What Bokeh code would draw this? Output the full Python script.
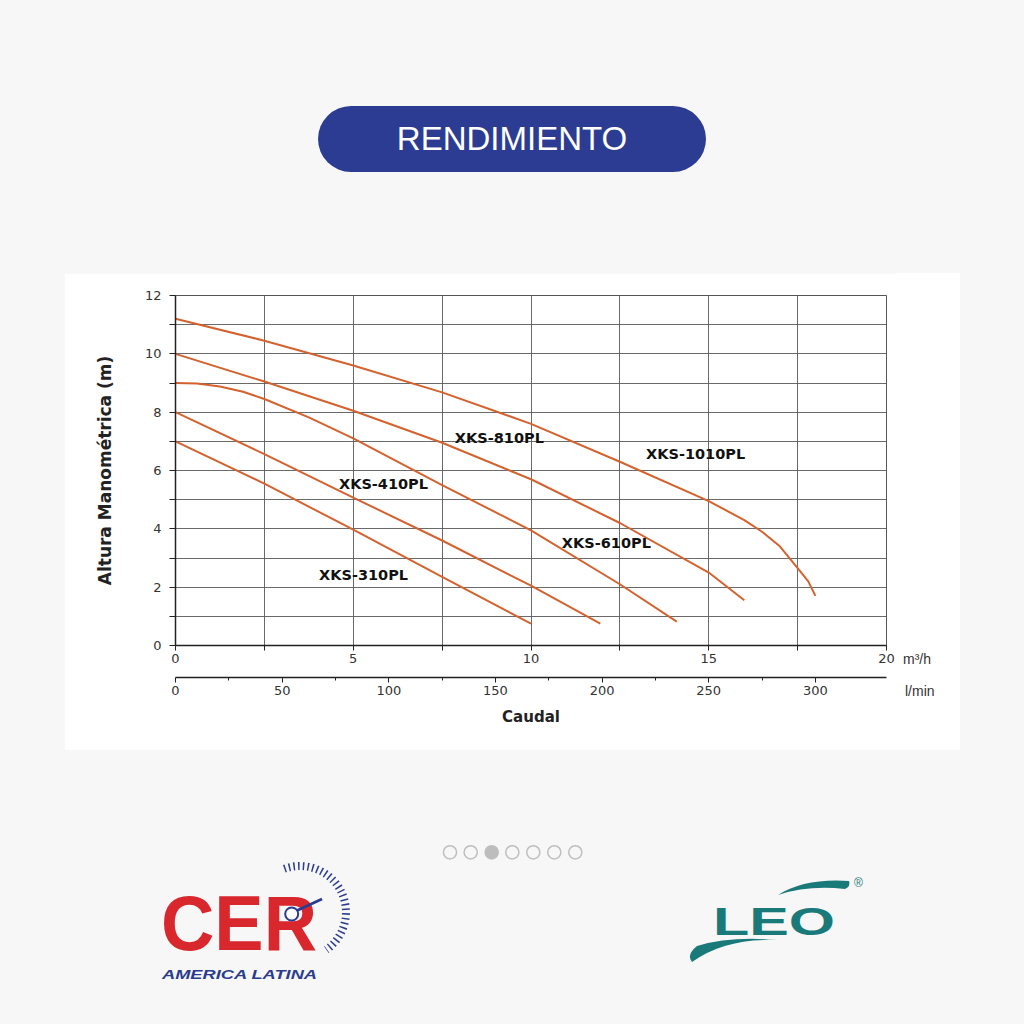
from bokeh.plotting import figure
from bokeh.models import Range1d, LinearAxis, FixedTicker, Div, Spacer, ColumnDataSource
from bokeh.layouts import column, row
from bokeh.embed import file_html
from bokeh.resources import INLINE
from bokeh.core.properties import value

# ---------------- data ----------------
flow_1010 = [0, 2.5, 5, 7.5, 10, 12.5, 15, 16, 16.5, 17, 17.5, 17.8, 18.0]
head_1010 = [11.2, 10.45, 9.6, 8.68, 7.6, 6.3, 4.95, 4.3, 3.9, 3.4, 2.65, 2.2, 1.7]

flow_810 = [0, 2.5, 5, 7.5, 10, 12.5, 15, 16.0]
head_810 = [10.0, 9.05, 8.05, 6.95, 5.7, 4.2, 2.5, 1.55]

flow_610 = [0, 0.6, 1.25, 1.9, 2.5, 3.75, 5, 7.5, 10, 12.5, 14.1]
head_610 = [9.0, 8.98, 8.88, 8.7, 8.45, 7.82, 7.1, 5.5, 3.95, 2.1, 0.82]

flow_410 = [0, 2.5, 5, 7.5, 10, 11.95]
head_410 = [8.0, 6.56, 5.07, 3.6, 2.05, 0.75]

flow_310 = [0, 2.5, 5, 7.5, 10]
head_310 = [7.0, 5.55, 3.97, 2.35, 0.75]

model_names = ["XKS-1010PL", "XKS-810PL", "XKS-410PL", "XKS-610PL", "XKS-310PL"]
label_flow = [14.63, 9.11, 5.85, 12.12, 5.29]
label_head = [6.55, 7.13, 5.55, 3.50, 2.43]

m3h_ticks = [0, 5, 10, 15, 20]
m3h_minor = [2.5, 7.5, 12.5, 17.5]
lmin_ticks = [0, 50, 100, 150, 200, 250, 300]
lmin_minor = [25, 75, 125, 175, 225, 275]
head_ticks = [0, 2, 4, 6, 8, 10, 12]
head_minor = [1, 3, 5, 7, 9, 11]
unit_texts = ["m³/h", "l/min"]

ORANGE = "#d5622e"
GRID = "#5a5a5a"
TXT = "#333333"
FONT = "DejaVu Sans"
BG = "#f7f7f7"

p = figure(width=832, height=477, x_range=Range1d(0, 20), y_range=Range1d(0, 12),
           output_backend="svg", toolbar_location=None,
           min_border_left=111, min_border_right=10, min_border_top=22, min_border_bottom=105,
           background_fill_color="white", border_fill_color="white",
           outline_line_color="#555555", outline_line_width=1)

p.xgrid.ticker = FixedTicker(ticks=[0, 2.5, 5, 7.5, 10, 12.5, 15, 17.5, 20])
p.ygrid.ticker = FixedTicker(ticks=list(range(13)))
for g in (p.xgrid, p.ygrid):
    g.grid_line_color = GRID
    g.grid_line_width = 1
    g.grid_line_alpha = 0.9

xa = p.xaxis[0]
xa.ticker = FixedTicker(ticks=m3h_ticks, minor_ticks=m3h_minor)
ya = p.yaxis[0]
ya.ticker = FixedTicker(ticks=head_ticks, minor_ticks=head_minor)

for ax in (xa, ya):
    ax.axis_line_color = "#222222"
    ax.axis_line_width = 1.5
    ax.major_tick_line_color = "#222222"
    ax.minor_tick_line_color = "#222222"
    ax.major_tick_in = 0
    ax.minor_tick_in = 0
    ax.major_label_text_font = FONT
    ax.major_label_text_font_size = "13px"
    ax.major_label_text_color = TXT

xa.major_tick_out = 5
xa.minor_tick_out = 5
xa.major_label_standoff = 3
xa.axis_label = " "
xa.axis_label_text_font_size = "2px"
xa.axis_label_standoff = 7

ya.major_tick_out = 6
ya.minor_tick_out = 6
ya.major_label_standoff = 8
ya.axis_label = "Altura Manométrica (m)"
ya.axis_label_text_font = FONT
ya.axis_label_text_font_style = "bold"
ya.axis_label_text_font_size = "17px"
ya.axis_label_text_color = "#222222"
ya.axis_label_standoff = 27

p.extra_x_ranges = {"lmin": Range1d(0, 20 * 1000 / 60)}
ax2 = LinearAxis(x_range_name="lmin", ticker=FixedTicker(ticks=lmin_ticks, minor_ticks=lmin_minor))
ax2.axis_line_color = "#222222"
ax2.axis_line_width = 1.5
ax2.major_tick_line_color = "#222222"
ax2.minor_tick_line_color = "#222222"
ax2.major_tick_in = 0
ax2.minor_tick_in = 0
ax2.major_tick_out = 5
ax2.minor_tick_out = 3
ax2.major_label_standoff = 3
ax2.major_label_text_font = FONT
ax2.major_label_text_font_size = "13px"
ax2.major_label_text_color = TXT
ax2.axis_label = "Caudal"
ax2.axis_label_text_font = FONT
ax2.axis_label_text_font_style = "bold"
ax2.axis_label_text_font_size = "15px"
ax2.axis_label_text_color = "#222222"
ax2.axis_label_standoff = 10
p.add_layout(ax2, "below")

for fx, hy in [(flow_1010, head_1010), (flow_810, head_810), (flow_610, head_610),
               (flow_410, head_410), (flow_310, head_310)]:
    p.line(fx, hy, line_color=ORANGE, line_width=2)

src = ColumnDataSource(dict(x=label_flow, y=label_head, name=model_names))
p.text(x="x", y="y", text="name", source=src, text_align="center", text_baseline="middle",
       text_font=value(FONT), text_font_style="bold", text_font_size="14.5px", text_color="#111111")

# white strip right of the chart holding the unit names
unit_svg = f"""<svg width="64" height="477" style="display:block" xmlns="http://www.w3.org/2000/svg">
<rect x="0" y="0" width="64" height="477" fill="#ffffff"/>
<text x="7" y="391" font-family="DejaVu Sans" font-size="14" fill="{TXT}">{unit_texts[0]}</text>
<text x="9" y="423" font-family="DejaVu Sans" font-size="14" fill="{TXT}">{unit_texts[1]}</text>
</svg>"""

top_svg = f"""<svg width="1024" height="273" style="display:block" xmlns="http://www.w3.org/2000/svg">
<rect x="0" y="0" width="1024" height="273" fill="{BG}"/>
<rect x="318" y="106" width="388" height="66" rx="33" ry="33" fill="#2b3c92"/>
<text x="512" y="150" text-anchor="middle" font-family="Lato" font-size="33" fill="#ffffff">RENDIMIENTO</text>
</svg>"""

dots = ""
for i, cx in enumerate([450, 470.7, 491.7, 512.3, 533.3, 554.3, 575.3]):
    fill = "#bdbdbd" if i == 2 else "none"
    dots += f'<circle cx="{cx}" cy="102.3" r="6.6" fill="{fill}" stroke="#bfbfbf" stroke-width="1.5"/>'

bot_svg = f"""<svg width="1024" height="274" style="display:block" xmlns="http://www.w3.org/2000/svg">
<rect x="0" y="0" width="1024" height="274" fill="{BG}"/>
{dots}
<path d="M 284.3 118.8 A 46 46 0 0 1 326.4 199.7" fill="none" stroke="#2b3c8f" stroke-width="8" stroke-dasharray="1.5 3.2"/>
<text x="161" y="200" font-family="Liberation Sans" font-weight="bold" font-size="78" fill="#d9272e" textLength="156" lengthAdjust="spacingAndGlyphs">CER</text>
<line x1="296" y1="161" x2="322" y2="149" stroke="#2b3c8f" stroke-width="3"/>
<circle cx="291.7" cy="164" r="6.5" fill="#ffffff" stroke="#2b3c8f" stroke-width="2"/>
<text x="162" y="229" font-family="Liberation Sans" font-weight="bold" font-style="italic" font-size="13" fill="#2b3c8f" textLength="155" lengthAdjust="spacingAndGlyphs">AMERICA LATINA</text>
<path d="M 778 145 Q 805 128 849 131 Q 851 136 845 139 Q 808 135 778 145 Z" fill="#1a7a7a"/>
<path d="M 777 190 Q 725 188 692 212 Q 686 205 697 196 Q 730 186 777 190 Z" fill="#1a7a7a"/>
<text x="713" y="185" font-family="DejaVu Sans" font-weight="bold" font-size="38" fill="#1a7a7a" textLength="122" lengthAdjust="spacingAndGlyphs">LEO</text>
<text x="854" y="137" font-family="DejaVu Sans" font-size="12" fill="#1a7a7a">®</text>
</svg>"""

top_div = Div(text=top_svg, width=1024, height=273, margin=0)
bot_div = Div(text=bot_svg, width=1024, height=274, margin=0)
unit_div = Div(text=unit_svg, width=64, height=477, margin=0)
left_sp = Spacer(width=64, height=477, margin=0, styles={"background-color": BG})
right_sp = Spacer(width=64, height=477, margin=0, styles={"background-color": BG})
mid = row(left_sp, p, unit_div, right_sp, spacing=0, margin=0)
page = column(top_div, mid, bot_div, spacing=0, margin=0, styles={"background-color": BG})

open("out.html", "w").write(file_html(page, INLINE))
